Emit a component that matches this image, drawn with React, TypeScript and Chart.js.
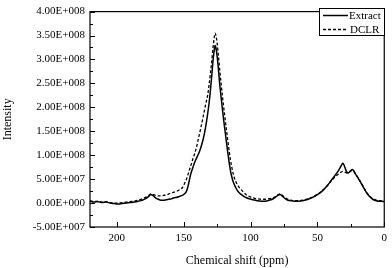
import React, { useEffect, useRef } from "react";
import { Chart, registerables } from "chart.js";

Chart.register(...registerables);

const ppm = [
  220, 217, 214, 211, 208, 205, 202, 199, 196, 193, 190, 187, 184, 181, 178, 176, 174.5, 173, 171, 169,
  167, 165, 163, 161, 159, 157, 155, 153, 151, 149.5, 148, 147, 146, 145, 144, 143, 142, 141, 140, 139,
  138, 137, 136, 135, 134, 133, 132, 131, 130, 129, 128, 127, 126.5, 126, 125, 124, 123, 122, 121, 120,
  119, 118, 117, 116, 115, 114, 113, 112, 111, 110, 109, 107, 105, 103, 101, 98, 95, 92, 89, 86,
  83, 80, 78, 76, 74, 72, 70, 67, 64, 61, 58, 55, 52, 49, 46, 43, 40, 37, 34, 32,
  31, 30, 29, 28, 27, 26, 25, 24, 23, 22, 20, 18, 16, 14, 12, 10, 8, 6, 4, 2, 0,
];

const extract = [
  4e6, 2e6, 3e6, 1e6, 2e6, 0, -1e6, -2e6, -1e6, 0, 1e6, 2e6, 4e6, 6e6, 10e6, 14e6, 18e6, 16e6, 11e6, 8e6,
  6e6, 6e6, 7e6, 8e6, 9e6, 11e6, 12e6, 14e6, 16e6, 19e6, 24e6, 32e6, 44e6, 57e6, 67e6, 75e6, 83e6, 90e6, 96e6, 102e6,
  109e6, 117e6, 127e6, 138e6, 152e6, 168e6, 187e6, 208e6, 235e6, 265e6, 298e6, 322e6, 329e6, 326e6, 308e6, 280e6, 248e6, 222e6, 196e6, 172e6,
  150e6, 128e6, 106e6, 86e6, 68e6, 55e6, 45e6, 38e6, 32e6, 27e6, 23e6, 18e6, 14e6, 11e6, 9e6, 7e6, 5e6, 4e6, 4e6, 6e6,
  9e6, 15e6, 18e6, 14e6, 9e6, 6e6, 5e6, 4e6, 4e6, 5e6, 7e6, 10e6, 14e6, 19e6, 26e6, 35e6, 46e6, 57e6, 69e6, 79e6,
  83e6, 79e6, 71e6, 65e6, 63e6, 65e6, 68e6, 70e6, 68e6, 63e6, 54e6, 45e6, 35e6, 25e6, 17e6, 11e6, 7e6, 5e6, 4e6, 4e6, 3e6,
];

const dclr = [
  5e6, 3e6, 4e6, 2e6, 3e6, 1e6, 0, 0, 1e6, 2e6, 3e6, 4e6, 6e6, 9e6, 13e6, 16e6, 19e6, 18e6, 16e6, 15e6,
  15e6, 16e6, 17e6, 19e6, 21e6, 23e6, 25e6, 28e6, 32e6, 40e6, 49e6, 57e6, 66e6, 75e6, 84e6, 93e6, 101e6, 110e6, 121e6, 134e6,
  146e6, 159e6, 172e6, 186e6, 200e6, 213e6, 226e6, 246e6, 270e6, 296e6, 325e6, 348e6, 355e6, 352e6, 335e6, 308e6, 278e6, 250e6, 224e6, 199e6,
  176e6, 153e6, 131e6, 110e6, 91e6, 75e6, 62e6, 52e6, 45e6, 39e6, 35e6, 28e6, 22e6, 17e6, 14e6, 11e6, 9e6, 8e6, 8e6, 9e6,
  11e6, 16e6, 19e6, 16e6, 11e6, 8e6, 6e6, 5e6, 5e6, 6e6, 8e6, 11e6, 15e6, 20e6, 27e6, 35e6, 45e6, 54e6, 61e6, 65e6,
  66e6, 65e6, 64e6, 63e6, 63e6, 65e6, 67e6, 68e6, 67e6, 63e6, 55e6, 46e6, 36e6, 26e6, 18e6, 12e6, 8e6, 6e6, 5e6, 5e6, 4e6,
];

const xTicks = [200, 150, 100, 50, 0];
const xMinorTicks = [175, 125, 75, 25];
const yTicks = [-5e7, 0, 5e7, 1e8, 1.5e8, 2e8, 2.5e8, 3e8, 3.5e8, 4e8];
const seriesLabels = ["Extract", "DCLR"];

const FONT = "'Liberation Serif', 'Times New Roman', serif";

function fmtSci(v: number): string {
  if (v === 0) return "0.00E+000";
  const sign = v < 0 ? "-" : "";
  const a = Math.abs(v);
  const exp = Math.floor(Math.log10(a) + 1e-9);
  const mant = a / Math.pow(10, exp);
  return sign + mant.toFixed(2) + "E+" + String(exp).padStart(3, "0");
}

const framePlugin = {
  id: "frame",
  afterDatasetsDraw(chart: any) {
    const { ctx, chartArea } = chart;
    const { left, right, top, bottom } = chartArea;
    const xs = chart.scales.x;
    const ys = chart.scales.y;
    ctx.save();
    ctx.strokeStyle = "#000";
    ctx.lineWidth = 1.2;
    ctx.strokeRect(left, top, right - left, bottom - top);
    ctx.lineWidth = 1;
    ctx.beginPath();
    yTicks.forEach((v, i) => {
      const y = Math.round(ys.getPixelForValue(v)) + 0.5;
      ctx.moveTo(left, y);
      ctx.lineTo(left + 5, y);
      if (i < yTicks.length - 1) {
        const ym = Math.round(ys.getPixelForValue((v + yTicks[i + 1]) / 2)) + 0.5;
        ctx.moveTo(left, ym);
        ctx.lineTo(left + 3, ym);
      }
    });
    xTicks.forEach((v) => {
      const x = Math.round(xs.getPixelForValue(v)) + 0.5;
      ctx.moveTo(x, bottom);
      ctx.lineTo(x, bottom - 5);
    });
    xMinorTicks.forEach((v) => {
      const x = Math.round(xs.getPixelForValue(v)) + 0.5;
      ctx.moveTo(x, bottom);
      ctx.lineTo(x, bottom - 3);
    });
    ctx.stroke();
    ctx.restore();
  },
};

const legendPlugin = {
  id: "boxLegend",
  afterDraw(chart: any) {
    const { ctx } = chart;
    const bx = 319.5, by = 8.5, bw = 65, bh = 27;
    ctx.save();
    ctx.fillStyle = "#fff";
    ctx.fillRect(bx, by, bw, bh);
    ctx.strokeStyle = "#000";
    ctx.lineWidth = 1;
    ctx.strokeRect(bx, by, bw, bh);
    const rows = [15.5, 29.5];
    chart.data.datasets.forEach((ds: any, i: number) => {
      ctx.beginPath();
      ctx.lineWidth = ds.borderWidth;
      ctx.setLineDash(ds.borderDash || []);
      ctx.moveTo(323, rows[i]);
      ctx.lineTo(348, rows[i]);
      ctx.stroke();
      ctx.setLineDash([]);
      ctx.fillStyle = "#000";
      ctx.font = `11px ${FONT}`;
      ctx.textBaseline = "middle";
      ctx.textAlign = "left";
      ctx.fillText(ds.label, i === 0 ? 349 : 350, rows[i] + 0.5);
    });
    ctx.restore();
  },
};

export default function App() {
  const ref = useRef<HTMLCanvasElement | null>(null);

  useEffect(() => {
    document.body.style.margin = "0";
    const canvas = ref.current;
    if (!canvas) return;
    const chart = new Chart(canvas, {
      type: "line",
      data: {
        datasets: [
          {
            label: seriesLabels[0],
            data: ppm.map((x, i) => ({ x, y: extract[i] })),
            borderColor: "#000",
            borderWidth: 1.5,
            pointRadius: 0,
            fill: false,
            cubicInterpolationMode: "monotone",
          },
          {
            label: seriesLabels[1],
            data: ppm.map((x, i) => ({ x, y: dclr[i] })),
            borderColor: "#000",
            borderWidth: 1.3,
            borderDash: [3, 2],
            pointRadius: 0,
            fill: false,
            cubicInterpolationMode: "monotone",
          },
        ],
      },
      options: {
        animation: false,
        responsive: false,
        maintainAspectRatio: false,
        layout: { padding: { top: 6, right: 4, left: 0, bottom: 0 } },
        plugins: { legend: { display: false }, tooltip: { enabled: false } },
        scales: {
          x: {
            type: "linear",
            reverse: true,
            min: 0,
            max: 220,
            grid: { display: false, drawTicks: false },
            border: { display: false },
            ticks: {
              color: "#000",
              font: { family: FONT, size: 11 },
              padding: 5,
              maxRotation: 0,
              autoSkip: false,
              callback: (v: any) => String(v),
            },
            title: {
              display: true,
              text: "Chemical shift (ppm)",
              color: "#000",
              font: { family: FONT, size: 12 },
              padding: { top: 0, bottom: 0 },
            },
            afterBuildTicks: (s: any) => {
              s.ticks = xTicks.map((v) => ({ value: v }));
            },
            afterFit: (s: any) => {
              s.height = 41;
            },
          },
          y: {
            type: "linear",
            min: -5e7,
            max: 4e8,
            grid: { display: false, drawTicks: false },
            border: { display: false },
            ticks: {
              color: "#000",
              font: { family: FONT, size: 11 },
              padding: 5,
              autoSkip: false,
              callback: (v: any) => fmtSci(Number(v)),
            },
            title: {
              display: true,
              text: "Intensity",
              color: "#000",
              font: { family: FONT, size: 12 },
              padding: { top: 1, bottom: 0 },
            },
            afterBuildTicks: (s: any) => {
              s.ticks = yTicks.map((v) => ({ value: v }));
            },
            afterFit: (s: any) => {
              s.width = 90;
            },
          },
        },
      },
      plugins: [framePlugin, legendPlugin],
    });
    return () => chart.destroy();
  }, []);

  return (
    <div style={{ width: 392, height: 268, background: "#fff" }}>
      <canvas ref={ref} width={392} height={268} style={{ display: "block", width: 392, height: 268 }} />
    </div>
  );
}
